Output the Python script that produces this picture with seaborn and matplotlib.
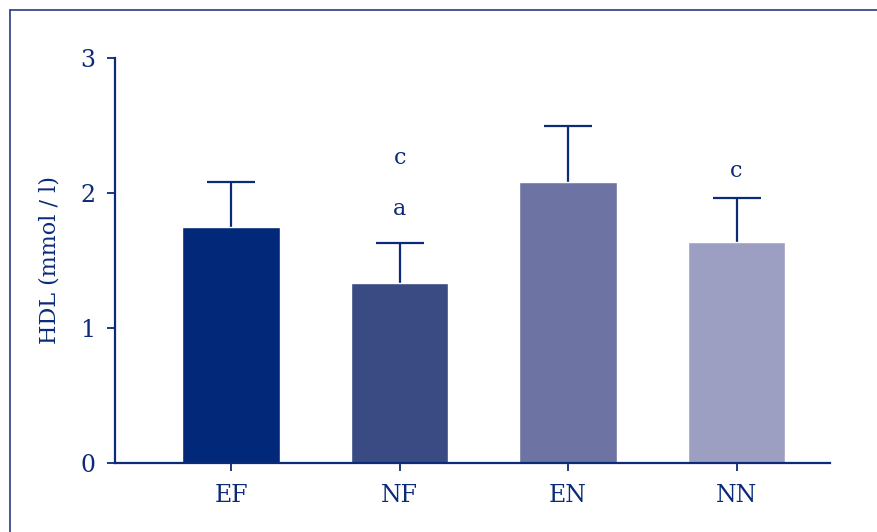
import numpy as np
import pandas as pd
import matplotlib.pyplot as plt
from matplotlib.lines import Line2D
import seaborn as sns

groups = ['EF', 'NF', 'EN', 'NN']
hdl_mean = [1.75, 1.33, 2.08, 1.64]
hdl_err = [0.33, 0.30, 0.42, 0.32]
bar_colors = ['#02287A', '#3A4A82', '#6D73A3', '#9C9FC1']
# significance letters per group, stacked from bottom
letters = {'NF': ['a', 'c'], 'NN': ['c']}
letter_y = {'NF': [1.88, 2.26], 'NN': [2.16]}

navy = '#0B2A78'

df = pd.DataFrame({'Group': groups, 'HDL': hdl_mean})

sns.set_style("white")
plt.rcParams['font.family'] = ['DejaVu Serif']

fig = plt.figure(figsize=(8.77, 5.32), dpi=100)
ax = fig.add_axes([115/877, 1 - 463/532, (830 - 115)/877, (463 - 58)/532])

sns.barplot(x='Group', y='HDL', hue='Group', data=df, palette=bar_colors,
            width=0.58, saturation=1, legend=False, ax=ax, zorder=2)
# symmetric error bars drawn behind the bars, so only the upper half shows
ax.errorbar(range(len(groups)), hdl_mean, yerr=hdl_err,
            fmt='none', ecolor=navy, elinewidth=1.6, capsize=17, capthick=1.6, zorder=1)

for g, labs in letters.items():
    i = groups.index(g)
    for lab, yy in zip(labs, letter_y[g]):
        ax.text(i, yy, lab, ha='center', va='center', fontsize=16, color=navy)

ax.set_ylim(0, 3)
ax.set_xlim(-0.69, 3.555)
ax.set_yticks([0, 1, 2, 3])
ax.set_xlabel('')
ax.set_ylabel('HDL (mmol / l)', fontsize=16, color=navy, labelpad=14)
ax.tick_params(axis='both', left=True, bottom=True, colors=navy, labelcolor=navy,
               labelsize=17, length=6, width=1.3, direction='out')
ax.tick_params(axis='x', pad=9)
ax.tick_params(axis='y', pad=8)
for s in ['top', 'right']:
    ax.spines[s].set_visible(False)
for s in ['left', 'bottom']:
    ax.spines[s].set_color(navy)
    ax.spines[s].set_linewidth(1.6)

# outer frame (open to the right and bottom)
fig.add_artist(Line2D([10/877, 10/877], [0, 1 - 10/532], transform=fig.transFigure,
                      color='#2B3A7E', lw=1.2))
fig.add_artist(Line2D([10/877, 1], [1 - 10/532, 1 - 10/532], transform=fig.transFigure,
                      color='#2B3A7E', lw=1.2))

fig.savefig('out.png', dpi=100)
